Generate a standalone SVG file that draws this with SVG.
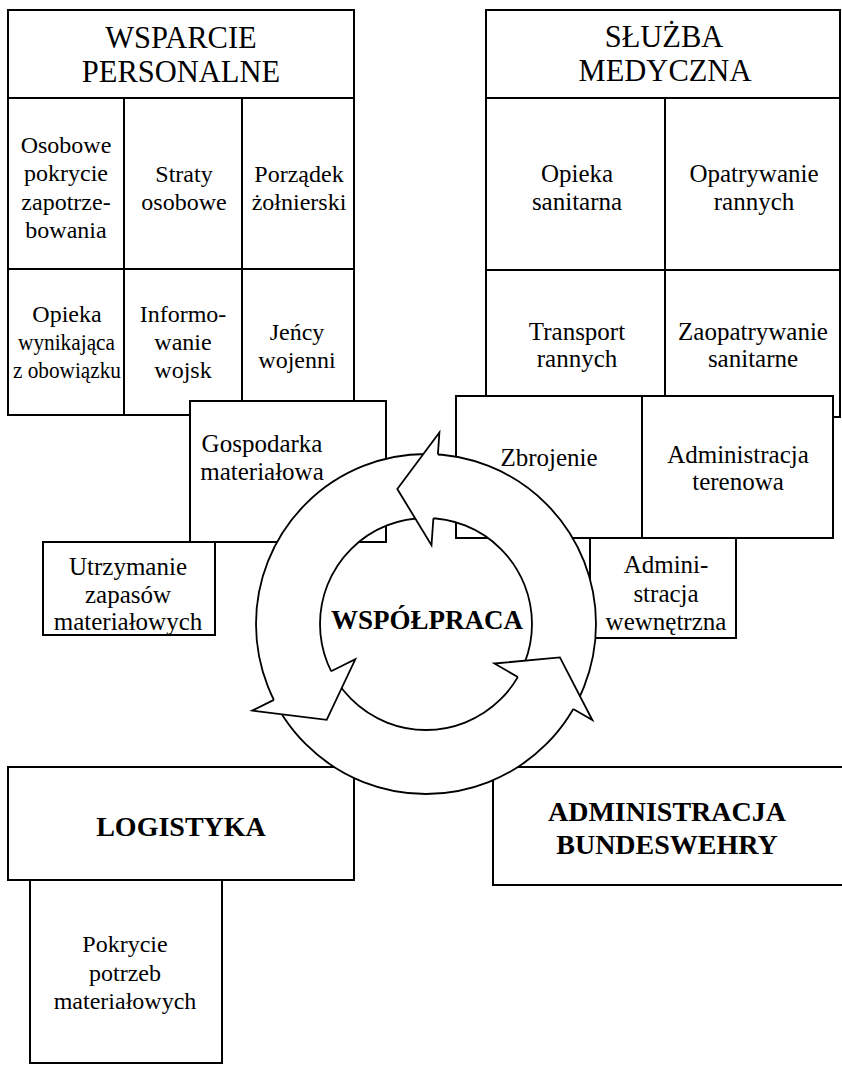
<svg xmlns="http://www.w3.org/2000/svg" width="842" height="1065" viewBox="0 0 842 1065">
<style>
.bx{fill:#fff;stroke:#000;stroke-width:2}
.ln{fill:none;stroke:#000;stroke-width:2}
.t{font-family:"Liberation Serif","Times New Roman",serif;font-size:24px;text-anchor:middle;fill:#000}
.m{font-size:25px}
.h{font-size:30.5px}
.b{font-weight:bold;font-size:28px}
.ring{fill:#fff;fill-rule:evenodd;stroke:#000;stroke-width:1.8}
.hw{fill:#fff;stroke:none}
.hs{fill:none;stroke:#000;stroke-width:1.8;stroke-linejoin:miter}
</style>
<rect width="842" height="1065" fill="#fff"/>

<g id="wsparcie-personalne">
<rect class="bx" x="8" y="10" width="346" height="405"/>
<line class="ln" x1="8" y1="98" x2="354" y2="98"/>
<line class="ln" x1="8" y1="269" x2="354" y2="269"/>
<line class="ln" x1="124" y1="98" x2="124" y2="415"/>
<line class="ln" x1="242" y1="98" x2="242" y2="415"/>
<text class="t h" x="181" y="48">WSPARCIE</text>
<text class="t h" x="181" y="82">PERSONALNE</text>
<text class="t" x="66" y="152.5">Osobowe</text>
<text class="t" x="66" y="181">pokrycie</text>
<text class="t" x="66" y="209.5">zapotrze-</text>
<text class="t" x="66" y="238">bowania</text>
<text class="t" x="184" y="182">Straty</text>
<text class="t" x="184" y="210">osobowe</text>
<text class="t" x="299" y="182">Porządek</text>
<text class="t" x="299" y="210">żołnierski</text>
<text class="t" x="67" y="322">Opieka</text>
<text class="t" x="66.5" y="350" textLength="97" lengthAdjust="spacingAndGlyphs">wynikająca</text>
<text class="t" x="67" y="378" textLength="108" lengthAdjust="spacingAndGlyphs">z obowiązku</text>
<text class="t" x="183" y="322">Informo-</text>
<text class="t" x="183" y="350">wanie</text>
<text class="t" x="183" y="378">wojsk</text>
<text class="t" x="297" y="340">Jeńcy</text>
<text class="t" x="297" y="368">wojenni</text>
</g>

<g id="gospodarka-materialowa">
<rect class="bx" x="190" y="401" width="196" height="141"/>
<text class="t m" x="262" y="451.5">Gospodarka</text>
<text class="t m" x="262" y="480">materiałowa</text>
</g>

<g id="utrzymanie-zapasow">
<rect class="bx" x="43" y="542" width="172" height="93"/>
<text class="t m" x="128" y="575">Utrzymanie</text>
<text class="t m" x="128" y="603">zapasów</text>
<text class="t m" x="128" y="630">materiałowych</text>
</g>

<g id="sluzba-medyczna">
<rect class="bx" x="486" y="10" width="354" height="407"/>
<line class="ln" x1="486" y1="98" x2="840" y2="98"/>
<line class="ln" x1="486" y1="270" x2="840" y2="270"/>
<line class="ln" x1="665" y1="98" x2="665" y2="417"/>
<text class="t h" x="664" y="47">SŁUŻBA</text>
<text class="t h" x="665" y="81">MEDYCZNA</text>
<text class="t m" x="577" y="181.5">Opieka</text>
<text class="t m" x="577" y="209.5">sanitarna</text>
<text class="t m" x="754" y="181.5">Opatrywanie</text>
<text class="t m" x="754" y="209.5">rannych</text>
<text class="t m" x="577" y="340">Transport</text>
<text class="t m" x="577" y="367">rannych</text>
<text class="t m" x="753" y="340">Zaopatrywanie</text>
<text class="t m" x="753" y="367">sanitarne</text>
</g>

<g id="zbrojenie-administracja-terenowa">
<rect class="bx" x="456" y="396" width="377" height="142"/>
<line class="ln" x1="642" y1="396" x2="642" y2="538"/>
<text class="t m" x="549" y="466">Zbrojenie</text>
<text class="t m" x="738" y="462.5">Administracja</text>
<text class="t m" x="738" y="490">terenowa</text>
</g>

<g id="administracja-wewnetrzna">
<rect class="bx" x="590" y="538" width="146" height="100"/>
<text class="t m" x="666" y="573">Admini-</text>
<text class="t m" x="666" y="601.5">stracja</text>
<text class="t m" x="666" y="630">wewnętrzna</text>
</g>

<g id="logistyka">
<rect class="bx" x="8" y="767" width="346" height="113"/>
<text class="t b" x="181" y="836">LOGISTYKA</text>
</g>

<g id="pokrycie-potrzeb">
<rect class="bx" x="30" y="880" width="192" height="183"/>
<text class="t" x="125" y="952">Pokrycie</text>
<text class="t" x="125" y="981">potrzeb</text>
<text class="t" x="125" y="1009">materiałowych</text>
</g>

<g id="administracja-bundeswehry">
<rect class="bx" x="493" y="767" width="360" height="118"/>
<text class="t b" x="667" y="821">ADMINISTRACJA</text>
<text class="t b" x="667" y="854">BUNDESWEHRY</text>
</g>

<g id="connectors">
<path class="ring" d="M596,624 A170,170 0 1 0 256,624 A170,170 0 1 0 596,624 Z M532,624 A106,106 0 1 0 320,624 A106,106 0 1 0 532,624 Z"/>
<polygon class="hw" points="439.4,432.5 397.3,489 431.5,545.2"/>
<polyline class="hs" points="437.9,454.4 439.4,432.5 397.3,489 431.5,545.2 433.4,518.3"/>
<polygon class="hw" points="252.4,710.6 326.7,719.9 355.3,659.3"/>
<polyline class="hs" points="273.9,699.9 252.4,710.6 326.7,719.9 355.3,659.3 331.1,671.3"/>
<polygon class="hw" points="592.3,720 559.9,657.4 494.4,663.5"/>
<polyline class="hs" points="573.2,709 592.3,720 559.9,657.4 494.4,663.5 517.8,677"/>
</g>

<g id="wspolpraca">
<text class="t" x="427" y="629" style="font-weight:bold;font-size:27px">WSPÓŁPRACA</text>
</g>
</svg>
